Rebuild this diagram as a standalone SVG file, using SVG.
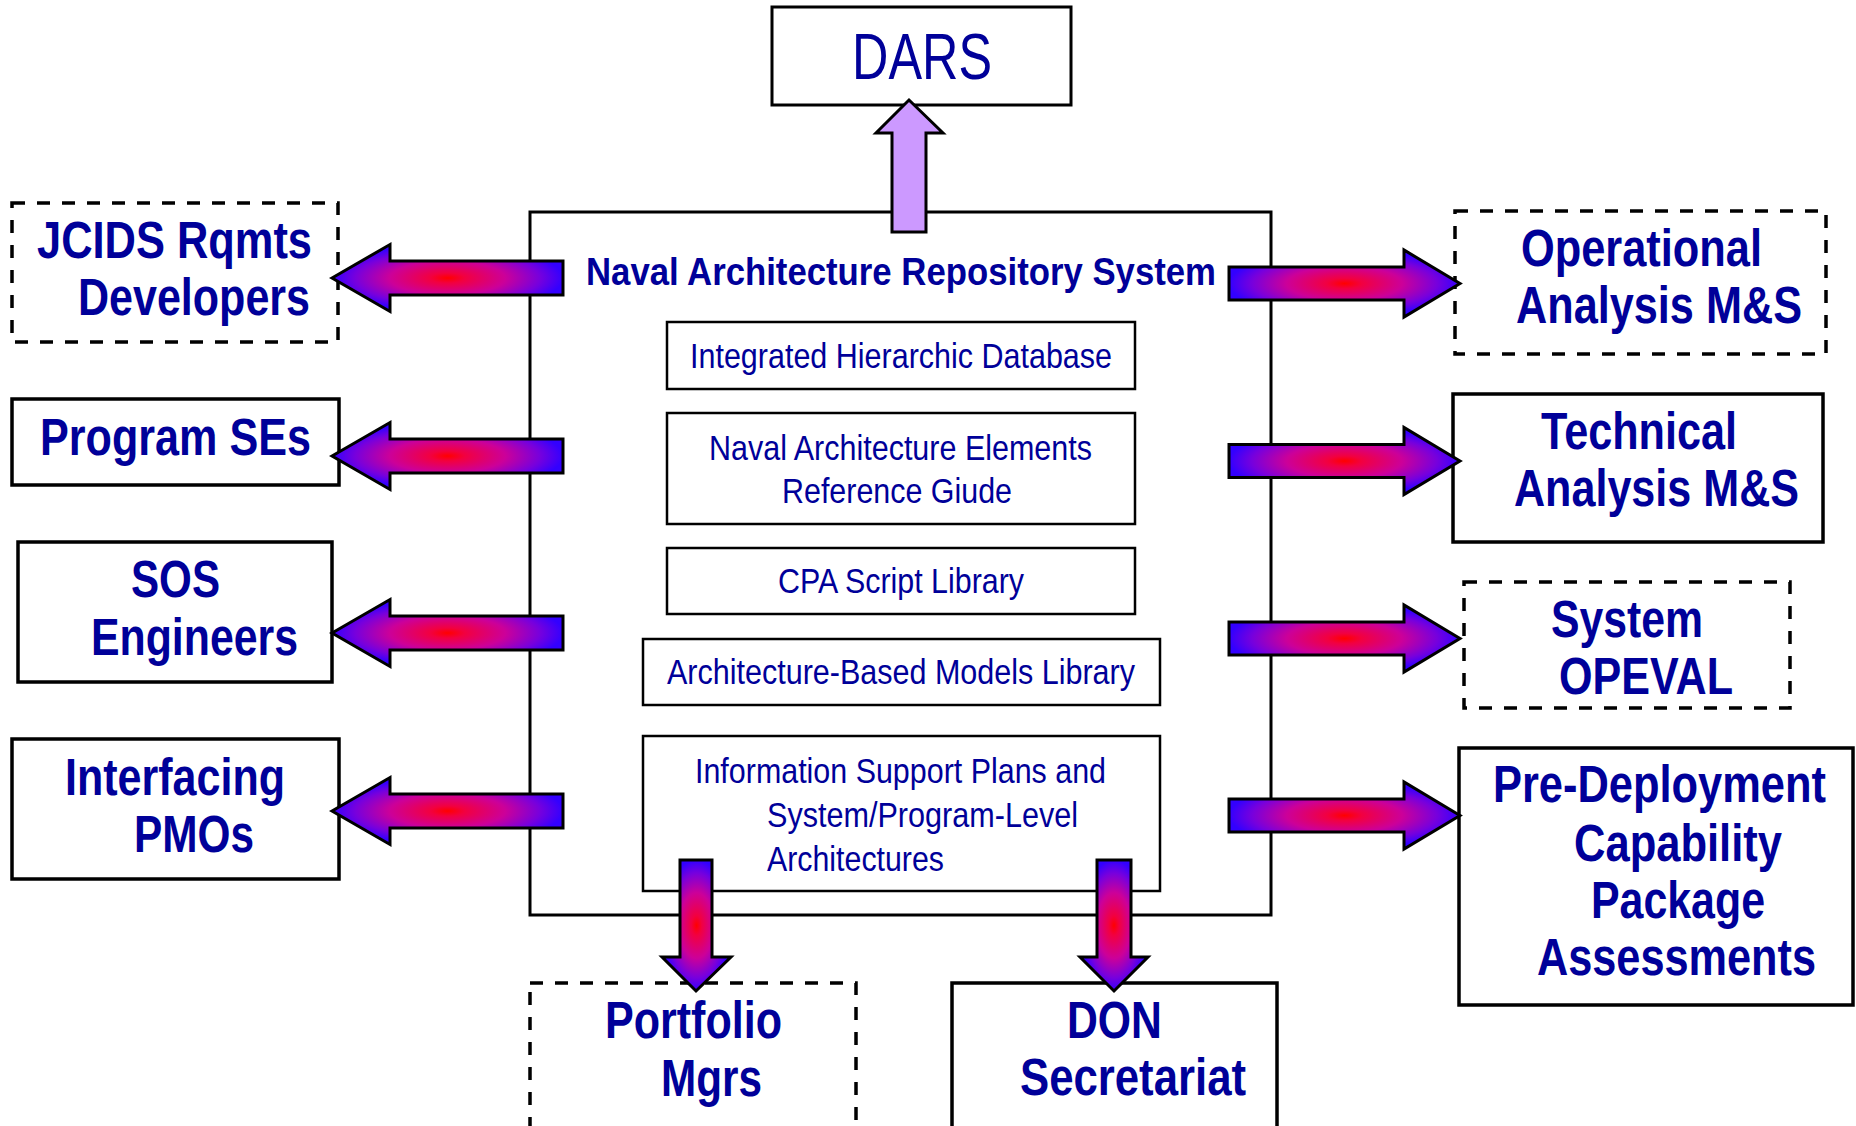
<svg xmlns="http://www.w3.org/2000/svg" width="1856" height="1126" viewBox="0 0 1856 1126">
<style>
.bg{fill:#ffffff}
.box{fill:#ffffff;stroke:#000;stroke-width:3.5}
.dash{fill:#ffffff;stroke:#000;stroke-width:3.5;stroke-dasharray:13 12}
.main{fill:#ffffff;stroke:#000;stroke-width:3}
.inner{fill:#ffffff;stroke:#000;stroke-width:2.5}
.lbl{font-family:'Liberation Sans Narrow','Liberation Sans',Arial,sans-serif;font-weight:bold;font-size:51px;fill:#000099}
.ttl{font-family:'Liberation Sans Narrow','Liberation Sans',Arial,sans-serif;font-weight:bold;font-size:39px;fill:#000099}
.reg{font-family:'Liberation Sans Narrow','Liberation Sans',Arial,sans-serif;font-size:35px;fill:#000099}
.dars{font-family:'Liberation Sans Narrow','Liberation Sans',Arial,sans-serif;font-size:64px;fill:#000099}
.arr{fill:url(#grad);stroke:#000;stroke-width:3;stroke-linejoin:miter}
.up{fill:#CC99FF;stroke:#000;stroke-width:3}
</style>
<defs>
<radialGradient id="grad" cx="0.5" cy="0.5" r="0.5" gradientUnits="objectBoundingBox">
<stop offset="0" stop-color="#FF0000"/>
<stop offset="0.15" stop-color="#F20040"/>
<stop offset="0.5" stop-color="#CC0099"/>
<stop offset="0.8" stop-color="#7700DD"/>
<stop offset="1" stop-color="#3300FF"/>
</radialGradient>
</defs>
<rect class="bg" x="0" y="0" width="1856" height="1126"/>

<g id="nars">
<rect class="main" x="530" y="212" width="741" height="703"/>
<text class="ttl" x="586" y="285" textLength="630" lengthAdjust="spacingAndGlyphs">Naval Architecture Repository System</text>
</g>
<g id="ihd">
<rect class="inner" x="667" y="322" width="468" height="67"/>
<text class="reg" x="690" y="368" textLength="422" lengthAdjust="spacingAndGlyphs">Integrated Hierarchic Database</text>
</g>
<g id="nae">
<rect class="inner" x="667" y="413" width="468" height="111"/>
<text class="reg" x="709" y="460" textLength="383" lengthAdjust="spacingAndGlyphs">Naval Architecture Elements</text>
<text class="reg" x="782" y="503" textLength="230" lengthAdjust="spacingAndGlyphs">Reference Giude</text>
</g>
<g id="cpa">
<rect class="inner" x="667" y="548" width="468" height="66"/>
<text class="reg" x="778" y="593" textLength="246" lengthAdjust="spacingAndGlyphs">CPA Script Library</text>
</g>
<g id="abml">
<rect class="inner" x="643" y="639" width="517" height="66"/>
<text class="reg" x="667" y="684" textLength="468" lengthAdjust="spacingAndGlyphs">Architecture-Based Models Library</text>
</g>
<g id="isp">
<rect class="inner" x="643" y="736" width="517" height="155"/>
<text class="reg" x="695" y="783" textLength="411" lengthAdjust="spacingAndGlyphs">Information Support Plans and</text>
<text class="reg" x="767" y="827" textLength="311" lengthAdjust="spacingAndGlyphs">System/Program-Level</text>
<text class="reg" x="767" y="871" textLength="177" lengthAdjust="spacingAndGlyphs">Architectures</text>
</g>

<g id="dars">
<rect class="main" x="772" y="7" width="299" height="98"/>
<text class="dars" x="852" y="79" textLength="140" lengthAdjust="spacingAndGlyphs">DARS</text>
</g>
<g id="jcids">
<rect class="dash" x="12" y="203" width="326" height="139"/>
<text class="lbl" x="37" y="258" textLength="275" lengthAdjust="spacingAndGlyphs">JCIDS Rqmts</text>
<text class="lbl" x="78" y="315" textLength="232" lengthAdjust="spacingAndGlyphs">Developers</text>
</g>
<g id="progse">
<rect class="box" x="12" y="399" width="327" height="86"/>
<text class="lbl" x="40" y="455" textLength="271" lengthAdjust="spacingAndGlyphs">Program SEs</text>
</g>
<g id="sos">
<rect class="box" x="18" y="542" width="314" height="140"/>
<text class="lbl" x="131" y="597" textLength="89" lengthAdjust="spacingAndGlyphs">SOS</text>
<text class="lbl" x="91" y="655" textLength="207" lengthAdjust="spacingAndGlyphs">Engineers</text>
</g>
<g id="pmos">
<rect class="box" x="12" y="739" width="327" height="140"/>
<text class="lbl" x="65" y="795" textLength="220" lengthAdjust="spacingAndGlyphs">Interfacing</text>
<text class="lbl" x="134" y="852" textLength="120" lengthAdjust="spacingAndGlyphs">PMOs</text>
</g>
<g id="opms">
<rect class="dash" x="1455" y="211" width="371" height="143"/>
<text class="lbl" x="1521" y="266" textLength="241" lengthAdjust="spacingAndGlyphs">Operational</text>
<text class="lbl" x="1516" y="323" textLength="286" lengthAdjust="spacingAndGlyphs">Analysis M&amp;S</text>
</g>
<g id="techms">
<rect class="box" x="1453" y="394" width="370" height="148"/>
<text class="lbl" x="1541" y="449" textLength="196" lengthAdjust="spacingAndGlyphs">Technical</text>
<text class="lbl" x="1514" y="506" textLength="285" lengthAdjust="spacingAndGlyphs">Analysis M&amp;S</text>
</g>
<g id="opeval">
<rect class="dash" x="1464" y="582" width="326" height="126"/>
<text class="lbl" x="1551" y="637" textLength="152" lengthAdjust="spacingAndGlyphs">System</text>
<text class="lbl" x="1559" y="694" textLength="174" lengthAdjust="spacingAndGlyphs">OPEVAL</text>
</g>
<g id="predeploy">
<rect class="box" x="1459" y="748" width="394" height="257"/>
<text class="lbl" x="1493" y="802" textLength="333" lengthAdjust="spacingAndGlyphs">Pre-Deployment</text>
<text class="lbl" x="1574" y="861" textLength="208" lengthAdjust="spacingAndGlyphs">Capability</text>
<text class="lbl" x="1591" y="918" textLength="174" lengthAdjust="spacingAndGlyphs">Package</text>
<text class="lbl" x="1537" y="975" textLength="279" lengthAdjust="spacingAndGlyphs">Assessments</text>
</g>
<g id="portfolio">
<rect class="dash" x="530" y="983" width="326" height="160"/>
<text class="lbl" x="605" y="1038" textLength="177" lengthAdjust="spacingAndGlyphs">Portfolio</text>
<text class="lbl" x="661" y="1096" textLength="101" lengthAdjust="spacingAndGlyphs">Mgrs</text>
</g>
<g id="don">
<rect class="box" x="952" y="983" width="325" height="160"/>
<text class="lbl" x="1067" y="1038" textLength="95" lengthAdjust="spacingAndGlyphs">DON</text>
<text class="lbl" x="1020" y="1095" textLength="226" lengthAdjust="spacingAndGlyphs">Secretariat</text>
</g>

<g id="connectors">
<polygon class="up" points="909,100 943,133 926,133 926,232 892,232 892,133 876,133"/>
<polygon class="arr" points="332,278 390,244.5 390,261 563,261 563,295 390,295 390,311.5"/>
<polygon class="arr" points="332,456 390,422.5 390,439 563,439 563,473 390,473 390,489.5"/>
<polygon class="arr" points="332,633 390,599.5 390,616 563,616 563,650 390,650 390,666.5"/>
<polygon class="arr" points="332,811 390,777.5 390,794 563,794 563,828 390,828 390,844.5"/>
<polygon class="arr" points="1460,283.5 1404,250 1404,267 1229,267 1229,300 1404,300 1404,317"/>
<polygon class="arr" points="1460,461 1404,427.5 1404,444.5 1229,444.5 1229,477.5 1404,477.5 1404,494.5"/>
<polygon class="arr" points="1460,638.5 1404,605 1404,622 1229,622 1229,655 1404,655 1404,672"/>
<polygon class="arr" points="1460,815.5 1404,782 1404,799 1229,799 1229,832 1404,832 1404,849"/>
<polygon class="arr" points="696,991 731,957 712,957 712,860 680,860 680,957 662,957"/>
<polygon class="arr" points="1114,991 1148,957 1131,957 1131,860 1097,860 1097,957 1080,957"/>
</g>
</svg>
